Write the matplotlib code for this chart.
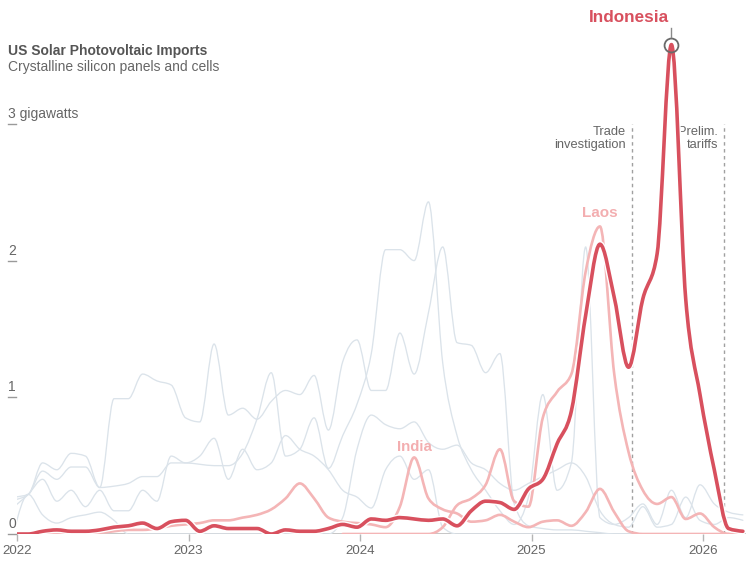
import numpy as np
import pandas as pd
import matplotlib
matplotlib.use("Agg")
import matplotlib.pyplot as plt
from matplotlib.path import Path
from matplotlib.patches import PathPatch
import matplotlib.patheffects as pe

plt.rcParams['font.family'] = ['Liberation Sans', 'DejaVu Sans']

# ---------------- data (gigawatts, monthly) ----------------
months = pd.date_range("2022-01-01", periods=52, freq="MS")

indonesia = [0.00, 0.00, 0.02, 0.03, 0.02, 0.02, 0.03, 0.05, 0.06, 0.08,
             0.04, 0.09, 0.10, 0.02, 0.06, 0.04, 0.04, 0.04, 0.00, 0.03,
             0.02, 0.02, 0.04, 0.07, 0.05, 0.11, 0.10, 0.12, 0.11, 0.10,
             0.11, 0.06, 0.17, 0.24, 0.23, 0.18, 0.33, 0.40, 0.66, 0.90,
             1.60, 2.12, 1.73, 1.22, 1.72, 2.05, 3.58, 1.72, 1.02, 0.47,
             0.04, 0.02]

india = [0.00, 0.00, 0.00, 0.01, 0.01, 0.01, 0.01, 0.02, 0.03, 0.03,
         0.04, 0.06, 0.07, 0.08, 0.10, 0.10, 0.12, 0.14, 0.18, 0.26,
         0.37, 0.26, 0.12, 0.09, 0.08, 0.07, 0.05, 0.20, 0.56, 0.26,
         0.18, 0.15, 0.09, 0.10, 0.14, 0.09, 0.05, 0.09, 0.10, 0.06,
         0.16, 0.33, 0.16, 0.02, 0.00, 0.00, 0.00, 0.00, 0.00, 0.00,
         0.00, 0.00]

laos = [np.nan] * 23 + [
    0.00, 0.00, 0.00, 0.00, 0.00, 0.00, 0.00,
    0.05, 0.21, 0.26, 0.36, 0.62, 0.24, 0.20, 0.85, 1.04, 1.17,
    1.92, 2.25, 1.17, 0.60, 0.32, 0.22, 0.27, 0.11, 0.15, 0.05,
    0.00, 0.00]

other_1 = [0.27, 0.29, 0.52, 0.47, 0.59, 0.57, 0.34, 0.99, 0.99, 1.17,
           1.12, 1.09, 0.85, 0.82, 1.39, 0.87, 0.92, 0.84, 0.97, 1.05,
           1.02, 1.16, 0.76, 1.26, 1.42, 1.05, 1.05, 1.47, 1.17, 1.62,
           2.10, 1.40, 1.38, 1.18, 1.32, 0.22, 0.06, 0.04, 0.03, 0.03,
           0.02, 0.01, 0.00, 0.00, 0.00, 0.00, 0.00, 0.00, 0.00, 0.00,
           0.00, 0.00]

other_2 = [0.25, 0.29, 0.46, 0.40, 0.49, 0.49, 0.34, 0.35, 0.37, 0.42,
           0.42, 0.52, 0.52, 0.51, 0.50, 0.50, 0.59, 0.84, 1.18, 0.57,
           0.62, 0.85, 0.48, 0.72, 0.95, 1.32, 2.08, 2.08, 2.00, 2.43,
           1.25, 0.72, 0.47, 0.32, 0.17, 0.07, 0.27, 1.02, 0.32, 0.52,
           2.10, 0.12, 0.07, 0.12, 0.22, 0.07, 0.32, 0.12, 0.36, 0.22,
           0.16, 0.14]

other_3 = [0.20, 0.29, 0.40, 0.24, 0.32, 0.20, 0.32, 0.17, 0.17, 0.32,
           0.24, 0.57, 0.52, 0.57, 0.70, 0.40, 0.62, 0.47, 0.52, 0.72,
           0.62, 0.57, 0.47, 0.32, 0.27, 0.19, 0.47, 0.57, 0.40, 0.47,
           0.05, 0.00, 0.00, 0.00, 0.00, 0.00, 0.00, 0.00, 0.00, 0.00,
           0.00, 0.00, 0.00, 0.00, 0.00, 0.00, 0.00, 0.00, 0.00, 0.00,
           0.00, 0.00]

other_4 = [0.02, 0.29, 0.14, 0.08, 0.12, 0.14, 0.16, 0.10, 0.00, 0.00,
           0.00, 0.00, 0.00, 0.00, 0.00, 0.00, 0.00, 0.00, 0.00, 0.00,
           0.00, 0.00, 0.00, 0.12, 0.62, 0.87, 0.80, 0.77, 0.82, 0.67,
           0.62, 0.65, 0.52, 0.47, 0.37, 0.32, 0.37, 0.42, 0.47, 0.52,
           0.42, 0.17, 0.07, 0.05, 0.20, 0.05, 0.07, 0.27, 0.10, 0.07,
           0.12, 0.10]

event_dates = ["2025-08-01", "2026-02-15"]
event_labels = ["Trade\ninvestigation", "Prelim.\ntariffs"]
year_ticks = [2022, 2023, 2024, 2025, 2026]
y_ticks = [0, 1, 2, 3]
y_tick_labels = ["0", "1", "2", "3 gigawatts"]

title = "US Solar Photovoltaic Imports"
subtitle = "Crystalline silicon panels and cells"

# ---------------- styling ----------------
RED = "#d8505e"
PINK = "#f4b5b6"
GRAY_LINE = "#dbe3ea"
TXT = "#666666"

W, H = 750, 565
PX_PER_YEAR = 171.5
PX_PER_GW = 136.7
DATA_SHIFT = 3.0 / PX_PER_YEAR   # small horizontal alignment of the plotted points


def frac_year(d):
    d = pd.Timestamp(d)
    return d.year + (d.month - 1) / 12 + (d.day - 1) / 365.0


t = np.array([frac_year(m) for m in months]) - DATA_SHIFT


def monotone_path(x, y):
    x = np.asarray(x, float)
    y = np.asarray(y, float)
    n = len(x)
    h = np.diff(x)
    s = np.diff(y) / h
    tg = np.zeros(n)
    for i in range(1, n - 1):
        s0, s1 = s[i - 1], s[i]
        p = (s0 * h[i] + s1 * h[i - 1]) / (h[i - 1] + h[i])
        tg[i] = (np.sign(s0) + np.sign(s1)) * min(abs(s0), abs(s1), 0.5 * abs(p))
    tg[0] = (3 * s[0] - tg[1]) / 2
    tg[-1] = (3 * s[-1] - tg[-2]) / 2
    verts = [(x[0], y[0])]
    codes = [Path.MOVETO]
    for i in range(n - 1):
        d = h[i] / 3
        verts += [(x[i] + d, y[i] + d * tg[i]),
                  (x[i + 1] - d, y[i + 1] - d * tg[i + 1]),
                  (x[i + 1], y[i + 1])]
        codes += [Path.CURVE4] * 3
    return Path(verts, codes)


def draw_series(ax, x, y, color, lw, z, effects=None):
    y = np.asarray(y, float)
    ok = ~np.isnan(y)
    patch = PathPatch(monotone_path(np.asarray(x)[ok], y[ok]), fill=False,
                      edgecolor=color, lw=lw, capstyle='round',
                      joinstyle='round', zorder=z)
    if effects:
        patch.set_path_effects(effects)
    ax.add_patch(patch)


fig = plt.figure(figsize=(W / 100, H / 100), dpi=100)
ax_left, ax_right, base_y = 17, 746, 534
ymax = 3.75
ax = fig.add_axes([ax_left / W, (H - base_y) / H,
                   (ax_right - ax_left) / W, ymax * PX_PER_GW / H])
ax.set_xlim(2022, 2022 + (ax_right - ax_left) / PX_PER_YEAR)
ax.set_ylim(0, ymax)
for sp in ax.spines.values():
    sp.set_visible(False)
ax.patch.set_alpha(0)

# baseline
ax.axhline(0, color="#c6c6c6", lw=1.4, zorder=1)

# x ticks
ax.set_xticks(year_ticks)
ax.set_xticklabels([str(y) for y in year_ticks])
ax.tick_params(axis='x', length=5, width=1, color="#b5b5b5", labelcolor=TXT,
               labelsize=9.6, pad=3)
ax.set_yticks([])

# y ticks (dash with label above)
ytr = ax.get_yaxis_transform()
x0 = (8 - ax_left) / (ax_right - ax_left)
x1 = (17 - ax_left) / (ax_right - ax_left)
for v, lab in zip(y_ticks, y_tick_labels):
    ax.plot([x0, x1 - 0.001], [v, v], transform=ytr, color="#9a9a9a",
            lw=1.0, clip_on=False, zorder=2)
    ax.annotate(lab, xy=(x0, v), xycoords=ytr, xytext=(0, 4.2),
                textcoords='offset points', ha='left', va='baseline',
                fontsize=10, color=TXT, annotation_clip=False)

# gray lines
for g in (other_1, other_2, other_3, other_4):
    draw_series(ax, t, g, GRAY_LINE, 0.95, 3)

# pink lines
draw_series(ax, t, india, PINK, 1.9, 4)
draw_series(ax, t, laos, PINK, 1.9, 4)

# event markers
for d, lab in zip(event_dates, event_labels):
    te = frac_year(d)
    ax.plot([te, te], [0, 3.0], ls=(0, (2.5, 2.5)), color="#a0a0a0", lw=1.0,
            zorder=2)
    ax.text(te - 6 / PX_PER_YEAR, 2.89, lab, ha='right', va='center',
            fontsize=9.3, color=TXT, linespacing=1.12, zorder=2)

# Indonesia line
draw_series(ax, t, indonesia, RED, 2.6, 6,
            effects=[pe.Stroke(linewidth=4.6, foreground='white'), pe.Normal()])

# peak marker
ipk = int(np.argmax(indonesia))
tp, vp = t[ipk], indonesia[ipk]
ax.plot([tp], [vp], 'o', ms=10, mfc='none', mec="#6a6a6a", mew=1.3,
        zorder=7, clip_on=False)
ax.plot([tp, tp], [vp + 7.5 / PX_PER_GW, vp + 17 / PX_PER_GW], color="#8a8a8a",
        lw=1.0, zorder=7, clip_on=False)
ax.text(2025.569, 3.78, "Indonesia", ha='center', va='center', fontsize=12.3,
        fontweight='bold', color=RED, zorder=8, clip_on=False)
ax.text(2025.40, 2.35, "Laos", ha='center', va='center', fontsize=11,
        fontweight='bold', color="#f3aeb0", zorder=8)
ax.text(2024.318, 0.64, "India", ha='center', va='center', fontsize=10.8,
        fontweight='bold', color="#f3aeb0", zorder=8)

# titles
fig.text(8 / W, 1 - 50.5 / H, title, ha='left', va='center', fontsize=10,
         fontweight='bold', color="#555555")
fig.text(8 / W, 1 - 67 / H, subtitle, ha='left', va='center', fontsize=10,
         color=TXT)

fig.savefig("out.png", dpi=100)
